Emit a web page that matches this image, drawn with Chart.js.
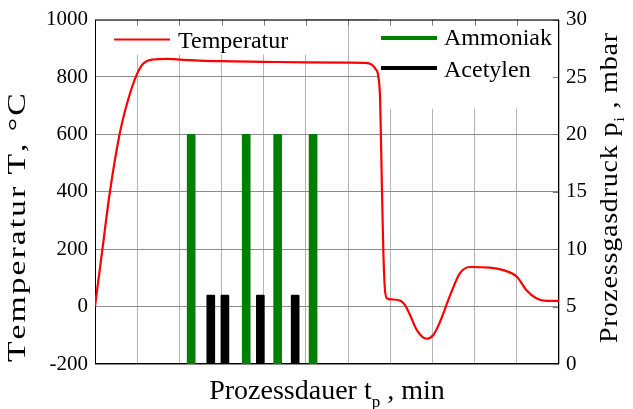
<!DOCTYPE html>
<html>
<head>
<meta charset="utf-8">
<script src="https://cdn.jsdelivr.net/npm/chart.js@4/dist/chart.umd.min.js"></script>
<style>
  html, body { margin:0; padding:0; background:#fff; }
  #myChart { display:block; }
</style>
</head>
<body>
<canvas id="myChart" width="633" height="409"></canvas>
<script>
// 온도 곡선 (x: 공정 시간 눈금 단위, y: °C)
var v_timeT = [0, 0.173, 0.348, 0.585, 0.78, 0.98, 1.14, 1.375, 1.69, 2.09, 3.0, 4.0, 5.0, 6.0, 6.4, 6.55, 6.65, 6.72, 6.76, 6.80,
               6.835, 6.875, 6.93, 7.03, 7.23, 7.35, 7.47, 7.63, 7.86, 8.02, 8.18, 8.42, 8.65, 8.89, 9.36, 9.68, 10.0, 10.23, 10.47, 10.71, 11.0];
var v_temp  = [0, 197, 394, 602, 718, 805, 846, 861, 863, 860, 855, 853, 851, 850, 849, 844, 828, 800, 718, 428,
               196, 57, 28, 25, 21, 5, -30, -82, -112, -99, -53, 40, 116, 138, 136, 127, 104, 57, 28, 20, 20];

// 암모니아 / 아세틸렌 펄스 (mbar)
var v_nh3Time  = [2.28, 3.585, 4.33, 5.17];
var v_nh3P     = [20, 20, 20, 20];
var v_c2h2Time = [2.745, 3.08, 3.92, 4.745];
var v_c2h2P    = [6, 6, 6, 6];

// 축 범위
var v_timeMax = 11;
var v_tempMin = -200, v_tempMax = 1000, v_tempStep = 200;
var v_pMin = 0, v_pMax = 30, v_pStep = 5;

var v_serif = 'Liberation Serif';
Chart.defaults.font.family = v_serif;

function f_points(p_x, p_y){
  var v_arr = [];
  for(var i=0; i<p_x.length; i++){
    v_arr.push({x:p_x[i], y:p_y[i]});
  }
  return v_arr;
}

function f_textWidth(ctx, p_parts){
  var w = 0;
  for(var i=0; i<p_parts.length; i++){
    ctx.font = p_parts[i][1] + 'px ' + v_serif;
    w += ctx.measureText(p_parts[i][0]).width;
  }
  return w;
}

// 아래첨자 포함 글자 그리기
// p_sx 만큼 가로로 늘리고, 남는 길이는 글자 사이 간격으로 채움
function f_drawTitle(ctx, p_parts, p_len, p_sx){
  var w = f_textWidth(ctx, p_parts), n = 0, i, j;
  for(i=0; i<p_parts.length; i++){
    n += p_parts[i][0].length;
  }
  var v_gap = 0;
  if(p_len){
    ctx.scale(p_sx, 1);
    v_gap = Math.max(0, (p_len / p_sx - w) / (n - 1));
  }
  var cx = 0;
  for(i=0; i<p_parts.length; i++){
    ctx.font = p_parts[i][1] + 'px ' + v_serif;
    var s = p_parts[i][0];
    for(j=0; j<s.length; j++){
      ctx.fillText(s[j], cx, p_parts[i][2]);
      cx += ctx.measureText(s[j]).width + v_gap;
    }
  }
}

// 범례 바탕, 테두리, 안쪽 눈금
var v_framePlugin = {
  id: 'frame',
  beforeDatasetsDraw: function(chart){
    var ctx = chart.ctx, a = chart.chartArea;
    var xs = chart.scales.x, yp = chart.scales.yP;
    ctx.save();
    ctx.fillStyle = '#fff';
    ctx.fillRect(a.left, a.top, 211, 35);
    ctx.fillRect(378, a.top, a.right - 378, 89);

    ctx.strokeStyle = '#777';
    ctx.lineWidth = 1;
    ctx.beginPath();
    for(var i=1; i<v_timeMax; i++){
      var px = Math.round(xs.getPixelForValue(i)) + 0.5;
      ctx.moveTo(px, a.top); ctx.lineTo(px, a.top + 6);
    }
    yp.ticks.forEach(function(t){
      var py = Math.round(yp.getPixelForValue(t.value)) + 0.5;
      ctx.moveTo(a.right, py); ctx.lineTo(a.right - 6, py);
    });
    ctx.stroke();

    ctx.strokeStyle = '#000';
    ctx.strokeRect(a.left + 0.5, a.top + 0.5, a.right - a.left - 1, a.bottom - a.top - 1);
    ctx.restore();
  },
  afterDatasetsDraw: function(chart){
    var ctx = chart.ctx, ds = chart.data.datasets;
    // 범례 항목: [데이터셋 번호, 선 시작, 선 끝, 선 y, 굵기, 글자 x, 글자 y]
    var v_items = [[0, 114, 170, 39.5, 2.2, 178, 48],
                   [1, 381, 437, 38, 4, 444, 44.5],
                   [2, 381, 437, 68, 4, 444, 77]];
    ctx.save();
    ctx.font = '24px ' + v_serif;
    ctx.fillStyle = '#000';
    ctx.textBaseline = 'alphabetic';
    for(var i=0; i<v_items.length; i++){
      var it = v_items[i];
      ctx.strokeStyle = ds[it[0]].borderColor;
      ctx.lineWidth = it[4];
      ctx.beginPath();
      ctx.moveTo(it[1], it[3]); ctx.lineTo(it[2], it[3]);
      ctx.stroke();
      ctx.fillText(ds[it[0]].label, it[5], it[6]);
    }
    ctx.restore();
  },
  afterDraw: function(chart){
    var ctx = chart.ctx, a = chart.chartArea;
    ctx.fillStyle = '#000';
    ctx.textBaseline = 'alphabetic';

    // x축 제목 (그래프 가운데 정렬)
    var v_xTitle = [['Prozessdauer t', 28, 0], ['p', 17, 8], [' , min', 28, 0]];
    ctx.save();
    ctx.translate((a.left + a.right) / 2 - f_textWidth(ctx, v_xTitle) / 2, 399);
    f_drawTitle(ctx, v_xTitle, 0, 1);
    ctx.restore();

    ctx.save();
    ctx.translate(25, 362);
    ctx.rotate(-Math.PI / 2);
    f_drawTitle(ctx, [['Temperatur T, °C', 26, 0]], 264, 1.3);
    ctx.restore();

    ctx.save();
    ctx.translate(617, 343);
    ctx.rotate(-Math.PI / 2);
    f_drawTitle(ctx, [['Prozessgasdruck p', 25, 0], ['i', 15, 7], [' , mbar', 25, 0]], 310, 1.12);
    ctx.restore();
  }
};

var v_tickFont = { family: v_serif, size: 21 };

function f_plain(p_val){
  return String(p_val);
}

var ctx = document.getElementById("myChart").getContext('2d');
var myChart = new Chart(ctx, {
  type: 'line',
  data: {
    datasets: [{
      label: 'Temperatur',
      data: f_points(v_timeT, v_temp),
      yAxisID: 'yT',
      borderColor: '#ff0000',
      borderWidth: 2.2,
      pointRadius: 0,
      fill: false,
      cubicInterpolationMode: 'monotone',
      order: 0
    }, {
      type: 'bar',
      label: 'Ammoniak',
      data: f_points(v_nh3Time, v_nh3P),
      yAxisID: 'yP',
      backgroundColor: '#008000',
      borderColor: '#008000',
      barThickness: 8,
      grouped: false,
      borderRadius: 1,
      order: 1
    }, {
      type: 'bar',
      label: 'Acetylen',
      data: f_points(v_c2h2Time, v_c2h2P),
      yAxisID: 'yP',
      backgroundColor: '#000000',
      borderColor: '#000000',
      barThickness: 8,
      grouped: false,
      borderRadius: 1,
      order: 1
    }]
  },
  options: {
    responsive: false,
    animation: false,
    layout: { padding: { top: 19, left: 0, right: 0, bottom: 0 } },
    plugins: { legend: { display: false }, tooltip: { enabled: false } },
    scales: {
      x: {
        type: 'linear',
        min: 0, max: v_timeMax,
        offset: false,
        ticks: { display: false, stepSize: 1 },
        grid: { color: '#b4b4b4', drawTicks: false, offset: false },
        border: { display: false },
        afterFit: function(s){ s.height = 45; }
      },
      yT: {
        position: 'left',
        min: v_tempMin, max: v_tempMax,
        ticks: { stepSize: v_tempStep, font: v_tickFont, color: '#000', padding: 7, callback: f_plain },
        grid: { color: '#8c8c8c', drawTicks: false },
        border: { display: false },
        afterFit: function(s){ s.width = 95; }
      },
      yP: {
        position: 'right',
        min: v_pMin, max: v_pMax,
        ticks: { stepSize: v_pStep, font: v_tickFont, color: '#000', padding: 7, callback: f_plain },
        grid: { display: false, drawTicks: false },
        border: { display: false },
        afterFit: function(s){ s.width = 74; }
      }
    }
  },
  plugins: [v_framePlugin]
});
</script>
</body>
</html>
